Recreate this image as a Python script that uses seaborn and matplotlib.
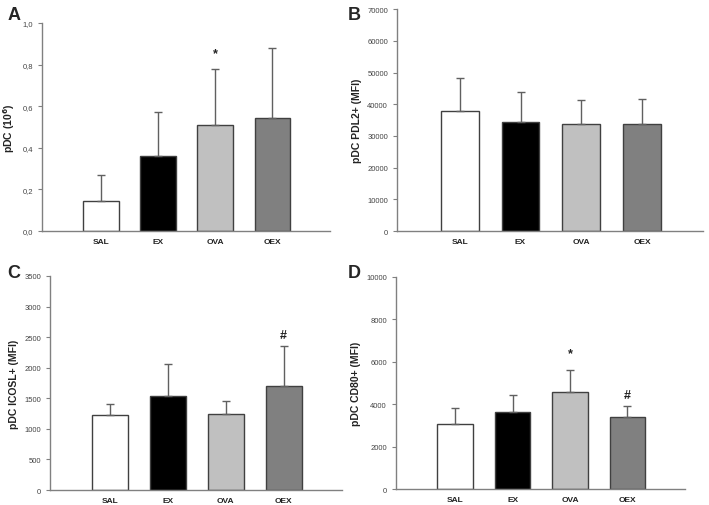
import numpy as np
import matplotlib
matplotlib.use("Agg")
import matplotlib.pyplot as plt
import seaborn as sns

# ===============================
# data
# ===============================

groups = ["SAL", "EX", "OVA", "OEX"]
bar_colors = ["#ffffff", "#000000", "#c0c0c0", "#808080"]

# panel A: pDC (10^6)
pdc_mean = [0.145, 0.360, 0.508, 0.545]
pdc_sd = [0.123, 0.212, 0.270, 0.335]
pdc_marks = ["", "", "*", ""]

# panel B: pDC PDL2+ (MFI)
pdl2_mean = [38000, 34500, 33700, 33600]
pdl2_sd = [10200, 9500, 7500, 8100]
pdl2_marks = ["", "", "", ""]

# panel C: pDC ICOSL+ (MFI)
icosl_mean = [1230, 1540, 1240, 1700]
icosl_sd = [180, 520, 220, 650]
icosl_marks = ["", "", "", "#"]

# panel D: pDC CD80+ (MFI)
cd80_mean = [3080, 3620, 4570, 3380]
cd80_sd = [720, 810, 1050, 540]
cd80_marks = ["", "", "*", "#"]

sns.set_style("white")
plt.rcParams["font.family"] = ["Liberation Sans", "DejaVu Sans"]

fig = plt.figure(figsize=(7.09, 5.06), dpi=100)

panels = [
    ("A", [0.059, 0.5415, 0.406, 0.411], pdc_mean, pdc_sd, pdc_marks,
     r"pDC (10$^\mathbf{6}$)", np.arange(0, 1.01, 0.2), 1.0, True),
    ("B", [0.560, 0.5415, 0.4315, 0.4385], pdl2_mean, pdl2_sd, pdl2_marks,
     "pDC PDL2+ (MFI)", np.arange(0, 70001, 10000), 70000, False),
    ("C", [0.0705, 0.0296, 0.4115, 0.423], icosl_mean, icosl_sd, icosl_marks,
     "pDC ICOSL+ (MFI)", np.arange(0, 3501, 500), 3500, False),
    ("D", [0.5585, 0.0316, 0.4075, 0.419], cd80_mean, cd80_sd, cd80_marks,
     "pDC CD80+ (MFI)", np.arange(0, 10001, 2000), 10000, False),
]

letter_pos = {"A": (0.010, 0.970), "B": (0.491, 0.970),
              "C": (0.010, 0.460), "D": (0.491, 0.460)}

for letter, rect, mean, sd, marks, ylabel, yticks, ymax, comma in panels:
    ax = fig.add_axes(rect)
    sns.barplot(x=groups, y=mean, hue=groups, palette=bar_colors, legend=False,
                edgecolor="#404040", linewidth=1.0, width=0.62, ax=ax)
    x = np.arange(len(groups))
    ax.errorbar(x, mean, yerr=[np.zeros(len(mean)), sd], fmt="none",
                ecolor="#606060", elinewidth=1.0, capsize=3, capthick=1.0)
    for i, m in enumerate(marks):
        if m:
            off = 0.05 if m == "*" else 0.025
            ax.text(i, mean[i] + sd[i] + ymax * off, m, ha="center", va="bottom",
                    fontsize=9, fontweight="bold", color="#222222")

    ax.set_xlim(-1.03, 4.0)
    ax.set_ylim(0, ymax)
    ax.set_yticks(yticks)
    if comma:
        ax.set_yticklabels([f"{v:.1f}".replace(".", ",") for v in yticks])
    else:
        ax.set_yticklabels([f"{int(v)}" for v in yticks])

    ax.set_ylabel(ylabel, fontsize=7.5, fontweight="bold", color="#222222")
    ax.set_xlabel("")
    sns.despine(ax=ax)
    for s in ["left", "bottom"]:
        ax.spines[s].set_color("#808080")
        ax.spines[s].set_linewidth(1.0)
    ax.tick_params(axis="y", direction="out", length=3, width=0.8, color="#808080",
                   labelsize=5.5, labelcolor="#444444", left=True)
    ax.tick_params(axis="x", length=0, labelsize=6, labelcolor="#222222", pad=5)
    for t in ax.get_xticklabels():
        t.set_fontweight("bold")

    lx, ly = letter_pos[letter]
    fig.text(lx, ly, letter, fontsize=13, fontweight="bold", va="center", ha="left")

fig.savefig("out.png", dpi=100)
